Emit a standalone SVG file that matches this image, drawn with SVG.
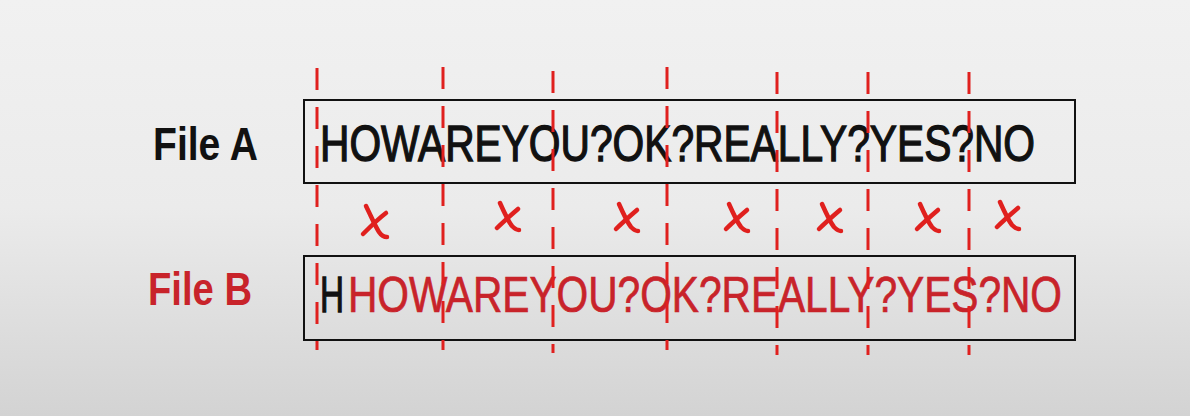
<svg xmlns="http://www.w3.org/2000/svg" width="1190" height="416" viewBox="0 0 1190 416">
<defs>
<linearGradient id="bg" x1="0" y1="0" x2="0" y2="1">
<stop offset="0" stop-color="#f1f1f1"/>
<stop offset="0.5" stop-color="#ebebeb"/>
<stop offset="1" stop-color="#d3d3d3"/>
</linearGradient>
<style>
.lbl{font-family:"Liberation Sans",Arial,sans-serif;font-size:46px;font-weight:bold;}
.seq{font-family:"Liberation Sans",Arial,sans-serif;font-size:50px;}
.a{fill:#111;stroke:#111;stroke-width:1.3;}
.b{fill:#c8232a;stroke:#c8232a;stroke-width:0.7;}
.box{fill:none;stroke:#111;stroke-width:2;}
.dash{stroke:#e0201e;stroke-width:3;stroke-dasharray:22 17;fill:none;}
.cross{stroke:#e0201e;stroke-width:4.5;fill:none;stroke-linecap:round;}
.red{fill:#c8232a;}
.blk{fill:#111;}
</style>
</defs>
<rect x="0" y="0" width="1190" height="416" fill="url(#bg)"/>
<g id="fileA">
<rect class="box" x="304" y="100" width="771" height="83"/>
<text class="lbl blk" x="153" y="160" textLength="105" lengthAdjust="spacingAndGlyphs">File A</text>
<text class="seq a" x="320" y="161" textLength="715" lengthAdjust="spacingAndGlyphs">HOWAREYOU?OK?REALLY?YES?NO</text>
</g>
<g id="fileB">
<rect class="box" x="304" y="256" width="771" height="84"/>
<text class="lbl red" x="148" y="305" textLength="104" lengthAdjust="spacingAndGlyphs">File B</text>
<text class="seq a" x="320" y="312" textLength="24" lengthAdjust="spacingAndGlyphs">H</text>
<text class="seq b" x="348" y="312" textLength="714" lengthAdjust="spacingAndGlyphs">HOWAREYOU?OK?REALLY?YES?NO</text>
</g>
<g id="connectors">
<line class="dash" x1="317" y1="68" x2="317" y2="350"/>
<line class="dash" x1="443" y1="67" x2="443" y2="350"/>
<line class="dash" x1="553" y1="71" x2="553" y2="353"/>
<line class="dash" x1="667" y1="67" x2="667" y2="350"/>
<line class="dash" x1="777" y1="72" x2="777" y2="355"/>
<line class="dash" x1="868" y1="72" x2="868" y2="355"/>
<line class="dash" x1="969" y1="72" x2="969" y2="355"/>
</g>
<g id="marks">
<g transform="translate(375,222)"><path class="cross" d="M-9,-16 C-4,-6 0,4 4,10 C6,13 9,15 12,15"/><path class="cross" d="M11,-9 C3,-3 -6,6 -12,12"/></g>
<g transform="translate(508,217)"><path class="cross" d="M-8,-14 C-4,-5 0,4 4,9 C6,11 8,13 11,13"/><path class="cross" d="M10,-8 C3,-2 -5,5 -11,11"/></g>
<g transform="translate(627,218)"><path class="cross" d="M-8,-14 C-4,-5 0,4 4,9 C6,11 8,13 11,13"/><path class="cross" d="M10,-8 C3,-2 -5,5 -11,11"/></g>
<g transform="translate(737,218)"><path class="cross" d="M-8,-14 C-4,-5 0,4 4,9 C6,11 8,13 11,13"/><path class="cross" d="M10,-8 C3,-2 -5,5 -11,11"/></g>
<g transform="translate(830,218)"><path class="cross" d="M-8,-14 C-4,-5 0,4 4,9 C6,11 8,13 11,13"/><path class="cross" d="M10,-8 C3,-2 -5,5 -11,11"/></g>
<g transform="translate(928,218)"><path class="cross" d="M-8,-14 C-4,-5 0,4 4,9 C6,11 8,13 11,13"/><path class="cross" d="M10,-8 C3,-2 -5,5 -11,11"/></g>
<g transform="translate(1008,216)"><path class="cross" d="M-8,-14 C-4,-5 0,4 4,9 C6,11 8,13 11,13"/><path class="cross" d="M10,-8 C3,-2 -5,5 -11,11"/></g>
</g>
</svg>
